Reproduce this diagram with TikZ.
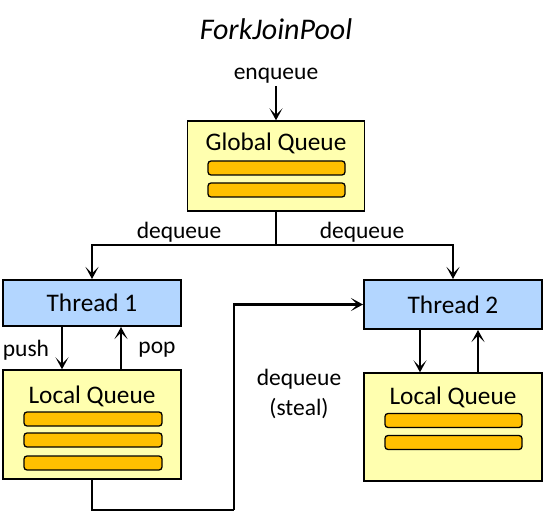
\documentclass[tikz,border=0pt]{standalone}
\usepackage{fontspec}
\setmainfont{Carlito}
\usetikzlibrary{arrows.meta}
\definecolor{qyellow}{HTML}{FFFFAF}
\definecolor{qbar}{HTML}{FFC000}
\definecolor{tblue}{HTML}{B3D6FF}
\tikzset{
  arr/.style={line width=2.3pt, -{Stealth[length=12pt,width=13pt,inset=6.5pt]}},
  plain/.style={line width=2.3pt},
  queuebox/.style={draw=black, line width=1.4pt, fill=qyellow, minimum width=177pt, inner sep=0pt},
  threadbox/.style={draw=black, line width=2pt, fill=tblue, minimum width=178pt, inner sep=0pt, font=\fontsize{25.3}{30}\selectfont},
  qbarbox/.style={draw=black, line width=1.3pt, fill=qbar, rounded corners=3pt, minimum width=137pt, minimum height=14pt, inner sep=0pt},
  boxtitle/.style={font=\fontsize{25.3}{30}\selectfont, inner sep=0pt},
  lbl/.style={font=\fontsize{23.5}{28}\selectfont, inner sep=0pt},
}
\begin{document}
\begin{tikzpicture}[x=1pt,y=-1pt]
\useasboundingbox (0,0) rectangle (552,532);
% title
\node[font=\fontsize{30}{36}\selectfont\itshape, inner sep=0pt] (title) at (276,29) {ForkJoinPool};
\node[lbl] (enq) at (276,76) {enqueue};
% global queue
\node[queuebox, minimum height=90pt] (gq) at (276,166) {};
\node[boxtitle] (gqt) at (276,143) {Global Queue};
\node[qbarbox] (gb1) at (276.5,168) {};
\node[qbarbox] (gb2) at (276.5,190) {};
% threads
\node[threadbox, minimum height=46pt] (t1) at (92,303) {Thread 1};
\node[threadbox, minimum height=49pt] (t2) at (453,304.5) {Thread 2};
% local queues
\node[queuebox, minimum width=178pt, minimum height=109pt] (lq1) at (92,424.5) {};
\node[boxtitle] (lq1t) at (92,396) {Local Queue};
\node[qbarbox, minimum width=138pt] (lb1) at (93,419) {};
\node[qbarbox, minimum width=138pt] (lb2) at (93,440) {};
\node[qbarbox, minimum width=138pt] (lb3) at (93,463) {};
\node[queuebox, minimum width=178pt, minimum height=108pt] (lq2) at (453,427) {};
\node[boxtitle] (lq2t) at (453,397) {Local Queue};
\node[qbarbox] (lc1) at (453.5,420.5) {};
\node[qbarbox] (lc2) at (453.5,442.5) {};
% labels
\node[lbl] (dq1) at (179,232) {dequeue};
\node[lbl] (dq2) at (362,232) {dequeue};
\node[lbl] (push) at (26,350) {push};
\node[lbl] (pop) at (157,350) {pop};
\node[lbl, align=center, font=\fontsize{23.5}{30}\selectfont] (steal) at (299,394) {dequeue\\(steal)};
% connectors
\coordinate (split) at (276,245);
\coordinate (c1) at (234,510);
\draw[arr] (enq.south) ++(0,2) -- (gq.north);
\draw[plain] (gq.south) -- (split);
\draw[arr] (split) -| (t1.north);
\draw[arr] (split) -| (t2.north);
\draw[arr] ([xshift=-30pt]t1.south) -- ([xshift=-30pt]lq1.north);
\draw[arr] ([xshift=29pt]lq1.north) -- ([xshift=29pt]t1.south);
\draw[arr] ([xshift=-33pt]t2.south) -- ([xshift=-33pt]lq2.north);
\draw[arr] ([xshift=25pt]lq2.north) -- ([xshift=25pt]t2.south);
\draw[plain] (lq1.south) |- (c1);
\draw[arr] (c1) |- (t2.west);
\end{tikzpicture}
\end{document}
